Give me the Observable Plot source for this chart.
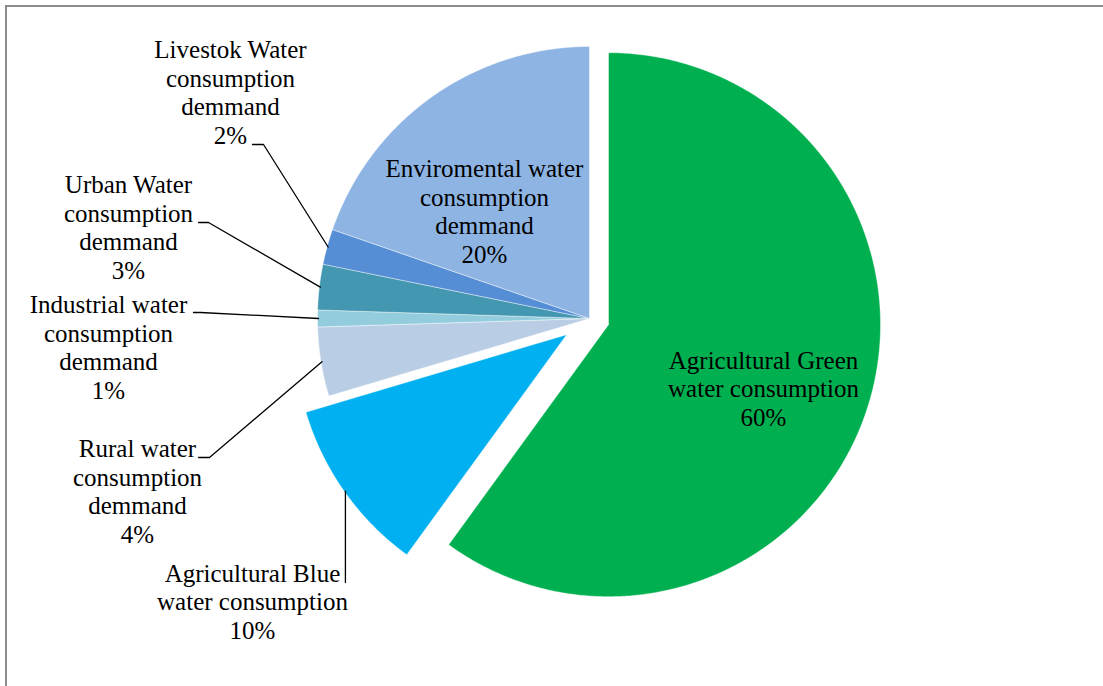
<!DOCTYPE html>
<html><head><meta charset="utf-8">
<script src="https://cdn.jsdelivr.net/npm/d3@7"></script>
<script src="https://cdn.jsdelivr.net/npm/@observablehq/plot@0.6"></script>
<style>
html,body{margin:0;padding:0;background:#fff;}
#wrap{position:relative;width:1103px;height:686px;overflow:hidden;}
#chart{position:absolute;left:0;top:0;}
#border{position:absolute;left:5px;top:5px;width:1200px;height:800px;border-top:2px solid #8c8c8c;border-left:2px solid #8c8c8c;pointer-events:none;}
</style></head><body>
<div id="wrap"><div id="chart"></div><div id="border"></div></div>
<script>
// ---- data (clockwise from 12 o'clock) ----
const categories = [
  "Agricultural Green water consumption",
  "Agricultural Blue water consumption",
  "Rural water consumption demmand",
  "Industrial water consumption demmand",
  "Urban Water consumption demmand",
  "Livestok Water consumption demmand",
  "Enviromental water consumption demmand"
];
const values = [60.0, 10.4, 4.1, 1.0, 2.7, 2.1, 19.7];
const labelLines = [
  ["Agricultural Green", "water consumption"],
  ["Agricultural Blue", "water consumption"],
  ["Rural water", "consumption", "demmand"],
  ["Industrial water", "consumption", "demmand"],
  ["Urban Water", "consumption", "demmand"],
  ["Livestok Water", "consumption", "demmand"],
  ["Enviromental water", "consumption", "demmand"]
];
const colors = ["#00b050", "#00b0f0", "#b9cde5", "#93cddd", "#4397b0", "#558ed5", "#8eb4e3"];

// ---- layout ----
const W = 1103, H = 686, CX = 589, CY = 318, R = 272;
const explode = [20, 28, 0, 0, 0, 0, 0];
const labelPos = [[763, 425], [252, 638], [137, 542], [108, 398], [128, 278], [230, 143], [484, 262]];
const leaderStart = [null, "vertical", [[198, 457], [209, 457]], [[193, 312], [200, 312]], [[198, 222], [208, 222]], [[252, 144], [263, 144]], null];

const arcs = d3.pie().sort(null).value(d => d)(values);
const slicePts = [];
const centers = [];
arcs.forEach((a, i) => {
  const mid = (a.startAngle + a.endAngle) / 2;
  const ox = CX + explode[i] * Math.sin(mid), oy = CY - explode[i] * Math.cos(mid);
  centers.push({ox, oy, mid});
  slicePts.push({k: i, x: ox, y: oy});
  const n = Math.max(2, Math.ceil((a.endAngle - a.startAngle) / (Math.PI / 360)));
  for (let j = 0; j <= n; j++) {
    const t = a.startAngle + (a.endAngle - a.startAngle) * j / n;
    slicePts.push({k: i, x: ox + R * Math.sin(t), y: oy - R * Math.cos(t)});
  }
  slicePts.push({k: i, x: ox, y: oy});
});

const leaders = [];
leaderStart.forEach((s, i) => {
  if (!s) return;
  const c = centers[i];
  const ex = c.ox + (R - 1) * Math.sin(c.mid), ey = c.oy - (R - 1) * Math.cos(c.mid);
  if (s === "vertical") {
    leaders.push({k: i, x: ex, y: 582});
  } else {
    s.forEach(p => leaders.push({k: i, x: p[0], y: p[1]}));
  }
  leaders.push({k: i, x: ex, y: ey});
});

const labels = categories.map((c, i) => ({
  x: labelPos[i][0], y: labelPos[i][1],
  text: [...labelLines[i], Math.round(values[i]) + "%"].join("\n")
}));

const FONT = "'Liberation Serif', 'Times New Roman', serif";
const chart = Plot.plot({
  width: W, height: H, margin: 0,
  x: {domain: [0, W], range: [0, W], axis: null},
  y: {domain: [0, H], range: [0, H], axis: null},
  color: {domain: categories, range: colors},
  style: {fontFamily: FONT, background: "transparent"},
  marks: [
    Plot.line(slicePts, {x: "x", y: "y", z: "k", fill: d => categories[d.k], stroke: "white", strokeWidth: 0.6, strokeOpacity: 0.7, curve: "linear"}),
    Plot.line(leaders, {x: "x", y: "y", z: "k", stroke: "black", strokeWidth: 1.3, curve: "linear"}),
    Plot.text(labels, {x: "x", y: "y", text: "text", fontSize: 25, fontFamily: FONT, lineHeight: 1.14, lineAnchor: "bottom", textAnchor: "middle", fill: "black"})
  ]
});
document.getElementById("chart").appendChild(chart);
</script>
</body></html>
